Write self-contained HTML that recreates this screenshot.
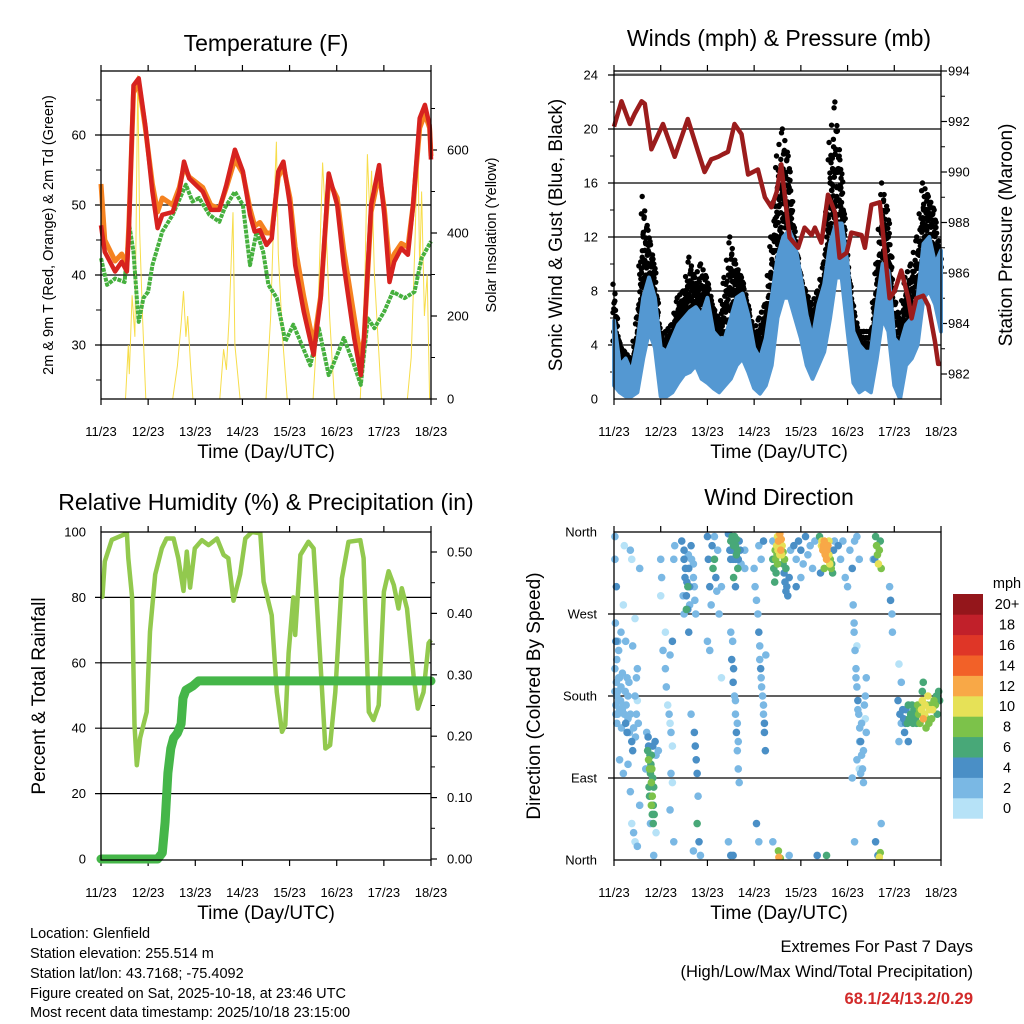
<!DOCTYPE html>
<html><head><meta charset="utf-8"><title>Station Meteogram</title>
<style>
html,body{margin:0;padding:0;background:#fff;}
svg{display:block;font-family:"Liberation Sans",Arial,sans-serif;}
</style></head>
<body>
<svg id="chart" width="1024" height="1024" viewBox="0 0 1024 1024" xmlns="http://www.w3.org/2000/svg">
<rect x="0" y="0" width="1024" height="1024" fill="#fff"/>
<g id="layer"></g>
<text x="266" y="51" font-size="23" text-anchor="middle">Temperature (F)</text>
<text x="779" y="46" font-size="23" text-anchor="middle">Winds (mph) &amp; Pressure (mb)</text>
<text x="266" y="510" font-size="23" text-anchor="middle">Relative Humidity (%) &amp; Precipitation (in)</text>
<text x="779" y="505" font-size="23" text-anchor="middle">Wind Direction</text>
<text x="266" y="458" font-size="19" text-anchor="middle">Time (Day/UTC)</text>
<text x="779" y="458" font-size="19" text-anchor="middle">Time (Day/UTC)</text>
<text x="266" y="919" font-size="19" text-anchor="middle">Time (Day/UTC)</text>
<text x="779" y="919" font-size="19" text-anchor="middle">Time (Day/UTC)</text>
<text transform="translate(53,235) rotate(-90)" font-size="14.5" text-anchor="middle">2m &amp; 9m T (Red, Orange) &amp; 2m Td (Green)</text>
<text transform="translate(496,235) rotate(-90)" font-size="14.5" text-anchor="middle">Solar Insolation (Yellow)</text>
<text transform="translate(562,235) rotate(-90)" font-size="19" text-anchor="middle">Sonic Wind &amp; Gust (Blue, Black)</text>
<text transform="translate(1012,235) rotate(-90)" font-size="19" text-anchor="middle">Station Pressure (Maroon)</text>
<text transform="translate(45,696) rotate(-90)" font-size="19" text-anchor="middle">Percent &amp; Total Rainfall</text>
<text transform="translate(540,696) rotate(-90)" font-size="19" text-anchor="middle">Direction (Colored By Speed)</text>
<g font-size="14.5">
<text x="30" y="938">Location: Glenfield</text>
<text x="30" y="958">Station elevation: 255.514 m</text>
<text x="30" y="978">Station lat/lon: 43.7168; -75.4092</text>
<text x="30" y="998">Figure created on Sat, 2025-10-18, at 23:46 UTC</text>
<text x="30" y="1017">Most recent data timestamp: 2025/10/18 23:15:00</text>
</g>
<text x="973" y="952" font-size="16.5" text-anchor="end">Extremes For Past 7 Days</text>
<text x="973" y="977" font-size="16.5" text-anchor="end">(High/Low/Max Wind/Total Precipitation)</text>
<text x="973" y="1004" font-size="16.5" font-weight="bold" fill="#d22a2a" text-anchor="end">68.1/24/13.2/0.29</text>
</svg>
<script>
// ---------- data ----------
const dayLabels = ["11/23","12/23","13/23","14/23","15/23","16/23","17/23","18/23"];
const tempTicks = [30,40,50,60];
const solarTicks = [0,200,400,600];
const windTicks = [0,4,8,12,16,20,24];
const pressTicks = [982,984,986,988,990,992,994];
const rhTicks = [0,20,40,60,80,100];
const precipTicks = [0.00,0.10,0.20,0.30,0.40,0.50];
const dirTicks = ["North","East","South","West","North"];
const speedBins = ["0","2","4","6","8","10","12","14","16","18","20+"];
const speedColors = ["#b6e2f7","#7ab8e4","#4a8fc6","#48a878","#7cc24a","#e6e157","#f8a847","#f26128","#df3627","#c1202a","#94161b"];

const tempT = [0,0.08,0.3,0.44,0.55,0.59,0.69,0.8,0.94,1.09,1.2,1.3,1.52,1.66,1.76,1.87,2.16,2.33,2.51,2.66,2.84,3.01,3.16,3.26,3.37,3.51,3.62,3.76,3.87,4.01,4.12,4.3,4.51,4.66,4.83,5.01,5.15,5.37,5.51,5.58,5.73,5.9,6.01,6.12,6.22,6.37,6.51,6.62,6.76,6.87,6.97,7.0];
const temp2m = [47.1,43.3,40.5,41.9,40.5,46.2,67.1,68.1,61.4,51.9,46.7,48.6,49.0,51.9,56.2,53.8,51.9,49.3,49.3,52.9,57.9,54.8,48.6,46.2,46.4,44.3,45.2,54.8,56.2,50.0,41.4,34.8,28.6,36.7,54.5,50.0,41.4,31.0,25.7,31.0,50.0,55.7,48.6,39.0,41.9,43.8,42.9,50.0,62.4,64.3,61.4,56.5];
const temp9m = [53.0,45.0,42.0,43.0,41.5,47.0,66.0,67.5,61.0,53.0,49.0,51.0,50.0,52.5,55.5,54.0,52.5,50.0,49.5,52.5,56.5,54.5,49.5,47.0,47.5,46.0,46.0,54.0,55.5,51.0,44.0,37.0,30.0,37.0,53.5,51.0,43.5,34.0,28.0,31.0,49.0,54.5,49.5,41.5,43.0,44.5,44.0,50.0,61.0,63.0,61.0,57.0];
const dewT = [0,0.13,0.3,0.5,0.6,0.69,0.76,0.8,0.9,1.0,1.09,1.3,1.52,1.8,1.94,2.08,2.3,2.51,2.62,2.84,3.01,3.16,3.3,3.44,3.55,3.73,3.91,4.08,4.23,4.44,4.62,4.83,5.01,5.15,5.37,5.51,5.66,5.8,6.01,6.19,6.44,6.65,6.8,7.0];
const dewPt = [42.4,38.6,39.5,39.0,47.1,43.3,36.7,33.3,36.7,37.6,41.4,46.2,48.6,52.9,50.5,51.0,48.6,47.6,49.5,51.9,50.0,41.4,46.2,43.3,38.6,36.7,30.5,32.9,30.5,27.1,32.4,25.7,28.6,31.0,27.1,24.3,33.8,32.4,34.8,37.6,36.7,37.6,42.4,44.8];
const solarT = [0,0.52,0.58,0.6,0.66,0.72,0.78,0.82,0.88,0.95,1.52,1.62,1.7,1.75,1.8,1.84,1.9,1.95,2.52,2.6,2.66,2.72,2.8,2.84,2.9,2.95,3.5,3.6,3.68,3.72,3.76,3.85,3.95,4.5,4.6,4.7,4.78,4.85,4.95,5.5,5.6,5.65,5.7,5.74,5.8,5.9,5.95,6.5,6.58,6.66,6.72,6.76,6.8,6.86,6.92,6.97,7.0];
const solarW = [0,0,130,60,250,150,780,400,200,0,0,80,180,260,150,200,80,0,0,120,70,200,450,130,60,0,0,200,500,620,350,150,0,0,200,570,400,200,0,0,300,590,450,550,300,100,0,0,100,380,640,300,500,200,300,0,0];

const pressT = [0,0.16,0.34,0.44,0.59,0.66,0.8,1.05,1.3,1.58,1.8,1.94,2.08,2.23,2.33,2.44,2.58,2.73,2.87,3.08,3.23,3.37,3.48,3.58,3.76,3.94,4.08,4.23,4.3,4.44,4.58,4.73,4.83,4.98,5.08,5.3,5.37,5.51,5.69,5.9,6.01,6.15,6.3,6.37,6.47,6.62,6.73,6.87,6.94,7.0];
const pressMb = [991.8,992.8,991.9,992.3,992.8,992.7,990.9,991.9,990.6,992.1,990.8,990.0,990.5,990.6,990.7,990.8,991.9,991.5,989.9,990.1,989.0,988.6,989.2,990.3,987.4,987.0,987.8,987.5,987.8,987.2,989.1,988.4,986.6,986.8,987.6,987.5,987.0,988.7,988.8,985.0,985.3,986.1,985.0,984.2,985.0,985.1,984.7,983.3,982.4,982.4];
const windT = [0,0.125,0.25,0.375,0.5,0.625,0.75,0.875,1,1.125,1.25,1.375,1.5,1.625,1.75,1.875,2,2.125,2.25,2.375,2.5,2.625,2.75,2.875,3,3.125,3.25,3.375,3.5,3.625,3.75,3.875,4,4.125,4.25,4.375,4.5,4.625,4.75,4.875,5,5.125,5.25,5.375,5.5,5.625,5.75,5.875,6,6.125,6.25,6.375,6.5,6.625,6.75,6.875,7];
const windHi = [5.8,2.5,3,2,4.2,7.5,9,7.5,3.8,3.5,4.5,5.5,6,6.5,6.8,6.2,7.5,5,4.5,4.5,6,7.5,7.8,6.2,3.8,3,4.5,7.5,10.5,12,12.5,11.5,9,6.2,4.5,7,8.5,11.5,13,13,10,5,4,3.5,3.5,7,10,9.5,4.5,4,5.5,6,7.5,11.5,12,10,11];
const windLo = [1,0.5,0.2,0.2,0.5,3,5,3.8,0.2,0.2,0.5,1.2,1.8,2,2.5,1.5,1.2,0.8,0.5,1,1.5,2.5,3,2,0.8,0.4,1,2.5,6,7.5,7.5,6,4.5,2.5,1.5,2.5,3.5,6,9,9,5,1.2,0.5,0.8,0.5,3,6,5,1,0,2.5,3,4,7.5,8,7,5];
const gustHi = [8.5,4,3.5,3,6,15,12.5,10,4.5,5,5.5,7.5,8,10.5,9,10,9,7,6,9,12,10,9,7,5,6,7,12,18,20,18,12,9,8,7,8,10,19,22,17,10,7,5,5,5,10,16,14,8,6,9,10,12,16,15,14,10];

const rhT = [0,0.03,0.08,0.23,0.55,0.58,0.66,0.71,0.76,0.83,0.97,1.04,1.15,1.29,1.39,1.54,1.64,1.75,1.82,1.89,1.99,2.14,2.28,2.46,2.6,2.7,2.81,2.95,3.06,3.2,3.38,3.45,3.62,3.73,3.84,3.91,3.98,4.08,4.12,4.23,4.4,4.51,4.65,4.76,4.86,4.97,5.11,5.25,5.5,5.57,5.68,5.78,5.89,6.0,6.1,6.21,6.31,6.38,6.49,6.63,6.72,6.84,6.95,7.0];
const rhPct = [80,80.2,91,97.6,99.6,92,80,41,28.7,37,45,69.5,87,95,98,98,92,82,94,83,95,97.5,96,98,93,92,79,87,98,100,99.6,84.8,74.6,51,38.9,41,63,80,68.5,93,97,95,61.3,33.8,34.8,51,85.8,97,97.5,92,45,42.5,47,81.7,88,83.8,76.6,82.8,76.6,56,46,51,66,67];
const precipT = [0,1.2,1.3,1.36,1.42,1.48,1.54,1.62,1.7,1.74,1.8,1.95,2.07,2.2,7.0];
const precipIn = [0,0,0.01,0.06,0.14,0.18,0.197,0.205,0.22,0.262,0.275,0.282,0.29,0.29,0.29];

const dirObs = [[0.02,355,2],[0.02,330,3],[0.05,300,4],[0.03,260,3],[0.04,240,4],[0.02,210,2],[0.05,195,3],[0.08,185,2],[0.1,175,2],[0.12,165,3],[0.06,150,2],[0.15,190,2],[0.18,205,3],[0.2,170,3],[0.22,160,2],[0.25,150,4],[0.28,140,4],[0.3,180,2],[0.32,195,3],[0.35,160,2],[0.38,130,5],[0.4,120,4],[0.42,145,3],[0.45,180,3],[0.48,200,2],[0.5,210,3],[0.52,150,2],[0.1,230,2],[0.15,250,3],[0.2,280,1],[0.25,240,2],[0.35,340,2],[0.38,330,1],[0.4,235,2],[0.45,265,1],[0.55,320,2],[0.3,105,2],[0.2,95,3],[0.35,75,2],[0.38,40,1],[0.42,30,2],[0.45,20,1],[0.5,15,3],[0.55,60,2],[0.12,110,2],[0.08,240,2],[0.22,345,1],[0.02,185,2],[0.04,170,3],[0.5,175,1],
[0.72,120,7],[0.74,110,8],[0.76,100,8],[0.78,95,7],[0.8,85,9],[0.82,70,8],[0.84,60,7],[0.86,50,6],[0.75,80,7],[0.8,115,6],[0.83,125,4],[0.88,130,4],[0.9,115,3],[0.73,135,5],[0.7,140,3],[0.68,100,2],[0.78,40,3],[0.85,5,3],[0.9,30,1],[0.95,120,2],
[1.0,330,2],[1.02,310,3],[1.0,290,1],[1.05,230,2],[1.1,210,3],[1.12,190,2],[1.15,170,1],[1.18,160,2],[1.2,150,1],[1.22,140,2],[1.25,125,1],[1.2,225,3],[1.25,240,4],[1.28,330,2],[1.3,345,3],[1.25,85,1],[1.2,55,3],[1.28,20,2],[1.22,95,2],[1.1,250,1],
[1.45,350,4],[1.5,330,5],[1.52,310,4],[1.55,290,5],[1.58,300,6],[1.6,320,4],[1.62,280,3],[1.5,270,3],[1.65,345,4],[1.7,325,3],[1.72,300,2],[1.75,270,3],[1.6,250,4],[1.55,275,6],[1.72,140,4],[1.74,125,4],[1.76,110,5],[1.78,95,4],[1.8,70,3],[1.78,40,6],[1.82,20,4],[1.7,10,2],[1.85,5,3],[1.65,160,2],
[2.0,355,4],[2.02,330,5],[2.05,300,4],[2.08,280,3],[2.1,345,4],[2.12,320,6],[2.15,330,7],[2.18,310,4],[2.2,295,3],[2.22,340,2],[2.25,270,3],[2.0,240,2],[2.05,230,2],[2.3,200,1],[2.3,300,3],[2.15,355,2],
[2.45,358,5],[2.5,350,6],[2.52,340,5],[2.55,330,4],[2.58,355,7],[2.6,345,6],[2.62,335,7],[2.65,320,6],[2.68,350,5],[2.7,340,4],[2.72,325,3],[2.5,250,3],[2.52,220,4],[2.55,195,4],[2.58,180,3],[2.6,160,2],[2.62,140,4],[2.64,120,3],[2.66,100,2],[2.68,85,3],[2.5,5,4],[2.45,20,3],[2.55,5,4],[2.8,340,3],[2.8,320,2],
[3.0,320,3],[3.02,300,2],[3.05,285,3],[3.08,270,3],[3.1,250,4],[3.12,220,3],[3.15,200,2],[3.18,180,2],[3.2,160,3],[3.22,140,4],[3.24,120,4],[3.1,345,3],[3.15,330,2],[3.2,350,4],[3.05,40,4],[3.1,20,3],[3.25,225,2],
[3.4,330,6],[3.42,320,7],[3.45,340,9],[3.48,345,10],[3.5,355,11],[3.52,350,12],[3.55,358,12],[3.58,352,13],[3.6,345,11],[3.62,338,9],[3.65,330,8],[3.5,325,8],[3.55,335,10],[3.47,315,7],[3.44,305,6],[3.68,320,7],[3.7,300,5],[3.72,290,4],[3.75,310,4],[3.78,340,3],[3.4,350,3],[3.52,10,8],[3.53,3,12],[3.56,2,8],[3.75,5,3],[3.4,20,3],
[3.85,345,4],[3.9,330,3],[3.95,350,5],[4.0,340,4],[4.05,325,3],[4.1,355,4],[4.15,335,3],[4.2,345,2],[4.25,320,3],[3.9,300,4],[4.0,310,3],[4.3,350,3],
[4.4,355,7],[4.45,350,10],[4.48,345,12],[4.5,340,13],[4.52,335,12],[4.55,330,13],[4.58,345,12],[4.6,350,11],[4.62,325,10],[4.65,320,9],[4.68,315,6],[4.5,320,8],[4.42,315,4],[4.55,5,7],[4.35,5,4],
[4.8,345,4],[4.85,330,3],[4.9,350,2],[4.95,310,3],[5.0,300,2],[5.05,340,3],[5.1,320,4],[5.15,350,2],[5.2,355,3],[5.25,330,2],
[5.12,280,3],[5.14,250,2],[5.16,230,3],[5.18,210,2],[5.2,190,3],[5.22,175,4],[5.24,160,3],[5.26,145,2],[5.28,130,4],[5.3,115,3],[5.32,100,2],[5.34,85,3],[5.36,170,2],[5.38,155,1],[5.4,140,2],[5.2,235,1],[5.25,100,1],[5.1,90,3],[5.15,20,2],[5.4,200,2],
[5.6,355,6],[5.62,345,8],[5.64,335,9],[5.66,325,10],[5.68,340,9],[5.7,350,7],[5.72,320,8],[5.58,330,4],[5.55,330,3],[5.65,5,5],[5.68,3,10],[5.7,8,8],[5.6,20,4],[5.72,40,3],
[5.9,300,3],[5.92,285,4],[5.95,270,3],[5.96,250,2],
[6.08,175,4],[6.12,160,4],[6.15,150,3],[6.2,155,4],[6.22,140,5],[6.25,165,5],[6.28,150,6],[6.3,170,6],[6.35,160,7],[6.4,150,7],[6.42,165,7],[6.45,155,7],[6.5,170,8],[6.52,160,9],[6.55,150,8],[6.58,165,10],[6.6,175,10],[6.62,155,12],[6.65,160,11],[6.68,145,8],[6.7,170,9],[6.72,180,10],[6.75,165,11],[6.78,170,9],[6.8,155,8],[6.85,175,8],[6.9,180,7],[6.95,185,6],[6.62,195,7],[6.6,185,7],[6.1,130,2],[6.3,130,4],[6.15,195,2],[6.1,215,1]];
const dirObsExtra = [[0.06,180,2],[0.08,160,3],[0.1,200,2],[0.14,175,3],[0.16,145,2],[0.18,165,2],[0.24,185,2],[0.26,170,3],[0.3,155,2],[0.33,140,3],[0.04,160,2],[0.06,220,3],[0.12,200,2],[0.28,200,2],[0.46,135,2],[0.48,160,3],
[0.74,125,4],[0.77,115,6],[0.79,105,7],[0.81,100,8],[0.83,90,6],[0.85,80,7],[0.76,70,6],[0.8,60,8],[0.82,50,7],[0.84,40,6],
[1.5,340,4],[1.53,320,4],[1.56,305,5],[1.59,335,3],[1.62,300,4],[1.66,330,3],[1.7,310,2],[1.73,285,3],[1.48,290,3],[1.58,275,4],
[2.48,340,5],[2.5,330,4],[2.53,355,6],[2.56,345,7],[2.6,330,5],[2.62,352,6],[2.64,340,7],[2.66,330,5],[2.56,310,6],[2.6,300,5],
[3.46,330,8],[3.49,335,9],[3.51,340,10],[3.54,345,11],[3.57,340,12],[3.59,335,10],[3.62,325,6],[3.64,315,5],[3.66,305,4],[3.68,295,4],
[4.44,345,11],[4.47,340,12],[4.5,350,12],[4.53,345,13],[4.56,340,12],[4.6,335,10],[4.63,330,9],[4.66,325,6],[4.7,340,4],[4.72,350,3],
[6.18,165,4],[6.24,150,5],[6.32,155,6],[6.38,170,6],[6.44,160,7],[6.48,150,7],[6.54,165,8],[6.6,160,9],[6.66,170,10],[6.7,155,9],[6.74,150,9],[6.82,165,10],[6.88,170,8],[6.92,160,7],[6.97,175,7],
[5.14,260,2],[5.18,200,3],[5.22,165,3],[5.26,130,3],[5.3,150,2],[5.34,120,2],[5.38,180,2],[5.2,110,2],[5.28,95,3],
[2.54,240,3],[2.56,210,4],[2.6,175,3],[2.64,150,3],[2.66,130,3],[3.12,235,3],[3.14,210,4],[3.16,190,3],[3.2,170,3],[3.22,150,4]];

// ---------- scales ----------
const NS = "http://www.w3.org/2000/svg";
const L = {x0:101,x1:431}, R = {x0:614,x1:941};
const TOP1 = 71, BOT1 = 399, TOP2 = 532, BOT2 = 860;
const xL = t => L.x0 + t*(L.x1-L.x0)/7;
const xR = t => R.x0 + t*(R.x1-R.x0)/7;
const yTemp = v => 345 - (v-30)*7;
const ySolar = v => Math.max(TOP1, 399 - v*0.415);
const yWind = v => 399 - v*13.5;
const yPress = p => 71 + (994-p)*25.25;
const yRH = v => 859 - v*3.27;
const yPrecip = v => 859 - v*614;
const yDir = d => 860 - d*328/360;
const layer = document.getElementById('layer');

function mk(tag, attrs, parent){
  const e = document.createElementNS(NS, tag);
  for (const k in attrs) e.setAttribute(k, attrs[k]);
  (parent||layer).appendChild(e);
  return e;
}
function poly(ts, vs, xf, yf){ return ts.map((t,i)=>xf(t).toFixed(1)+','+yf(vs[i]).toFixed(1)).join(' '); }
function speedColor(s){ let i = Math.min(10, Math.floor(s/2)); return speedColors[i]; }

function frame(x0,x1,y0,y1,name){
  const r = mk('rect',{x:x0,y:y0,width:x1-x0,height:y1-y0,fill:'none',stroke:'#000','stroke-width':1.3});
  
  
}
function xTicks(xf,y0,y1,labelY,name){
  const g = mk('g',{});
  
  
  dayLabels.forEach((lab,i)=>{
    const x = xf(i);
    mk('line',{x1:x,x2:x,y1:y1,y2:y1+6,stroke:'#000','stroke-width':1.2},g);
    mk('line',{x1:x,x2:x,y1:y0,y2:y0-6,stroke:'#000','stroke-width':1.2},g);
    const t = mk('text',{x:x,y:labelY,'font-size':13,'text-anchor':'middle'},g);
    t.textContent = lab;
  });
}
function hGrid(x0,x1,ys,name){
  const g = mk('g',{});
  
  
  ys.forEach(y=>mk('line',{x1:x0-6,x2:x1,y1:y,y2:y,stroke:'#000','stroke-width':1.2},g));
}
function yLabels(vals, yf, x, anchor, fmt, name, tickX, tickDir){
  const g = mk('g',{});
  
  
  vals.forEach(v=>{
    const y = yf(v);
    if (tickX!==undefined) mk('line',{x1:tickX,x2:tickX+tickDir*6,y1:y,y2:y,stroke:'#000','stroke-width':1.2},g);
    const t = mk('text',{x:x,y:y+4.5,'font-size':13,'text-anchor':anchor},g);
    t.textContent = fmt(v);
  });
}

hGrid(L.x0,L.x1,tempTicks.map(yTemp),'temp-gridlines');
yLabels(tempTicks,yTemp,86,'end',v=>v,'temp-y-ticks');
yLabels(solarTicks,ySolar,447,'start',v=>v,'solar-y-ticks',L.x1,1);
for (let v=25; v<=65; v+=10) mk('line',{x1:L.x0-5,x2:L.x0,y1:yTemp(v),y2:yTemp(v),stroke:'#000'});
for (let v=100; v<=700; v+=200) mk('line',{x1:L.x1,x2:L.x1+4,y1:ySolar(v),y2:ySolar(v),stroke:'#000'});
xTicks(xL,TOP1,BOT1,436,'temp-x-ticks');

hGrid(R.x0,R.x1,windTicks.slice(1).map(yWind),'wind-gridlines');
mk('line',{x1:R.x0,x2:R.x1,y1:TOP1+3,y2:TOP1+3,stroke:'#888','stroke-width':1.2});
yLabels(windTicks,yWind,598,'end',v=>v,'wind-y-ticks');
yLabels(pressTicks,yPress,948,'start',v=>v,'pressure-y-ticks',R.x1,1);
for (let p=983; p<=993; p+=2) mk('line',{x1:R.x1,x2:R.x1+4,y1:yPress(p),y2:yPress(p),stroke:'#000'});
for (let v=2; v<=22; v+=4) mk('line',{x1:R.x0-4,x2:R.x0,y1:yWind(v),y2:yWind(v),stroke:'#000'});
xTicks(xR,TOP1,BOT1,436,'wind-x-ticks');

hGrid(L.x0,L.x1,rhTicks.slice(1,5).map(yRH),'rh-gridlines');
yLabels(rhTicks,yRH,86,'end',v=>v,'rh-y-ticks');
yLabels(precipTicks,yPrecip,447,'start',v=>v.toFixed(2),'precip-y-ticks',L.x1,1);
for (let v=0.05; v<0.53; v+=0.1) mk('line',{x1:L.x1,x2:L.x1+4,y1:yPrecip(v),y2:yPrecip(v),stroke:'#000'});
xTicks(xL,TOP2,BOT2,897,'rh-x-ticks');

hGrid(R.x0,R.x1,[90,180,270].map(yDir),'dir-gridlines');
{
  const g = mk('g',{});
  
  
  dirTicks.forEach((lab,i)=>{
    const y = yDir(i*90);
    const t = mk('text',{x:597,y:y+4.5,'font-size':13,'text-anchor':'end'},g);
    t.textContent = lab;
  });
}
xTicks(xR,TOP2,BOT2,897,'dir-x-ticks');

const defs = mk('defs',{});
[['c1',L.x0,TOP1,L.x1,BOT1],['c2',R.x0,TOP1,R.x1,BOT1],['c3',L.x0,TOP2,L.x1,BOT2],['c4',R.x0,TOP2,R.x1,BOT2]].forEach(c=>{
  const cp = mk('clipPath',{id:c[0]},defs);
  mk('rect',{x:c[1]-6,y:c[2],width:c[3]-c[1]+12,height:c[4]-c[2]},cp);
});

let e = mk('polyline',{points:poly(solarT,solarW,xL,ySolar),fill:'none',stroke:'#f7dd4a','stroke-width':1,'clip-path':'url(#c1)'});
 
e = mk('polyline',{points:poly(dewT,dewPt,xL,yTemp),fill:'none',stroke:'#46b03e','stroke-width':4,'stroke-dasharray':'4 1','stroke-linejoin':'round','clip-path':'url(#c1)'});
 
e = mk('polyline',{points:poly(tempT,temp9m,xL,yTemp),fill:'none',stroke:'#f58220','stroke-width':5,'stroke-linejoin':'round','clip-path':'url(#c1)'});
 
e = mk('polyline',{points:poly(tempT,temp2m,xL,yTemp),fill:'none',stroke:'#d7221f','stroke-width':4.5,'stroke-linejoin':'round','clip-path':'url(#c1)'});
 

// gust dots (cloud above sustained wind up to gust envelope)
{
  const g = mk('g',{'clip-path':'url(#c2)'});
  
  
  const sub = 7, lv = 6;
  for (let i=0;i<windT.length-1;i++){
    for (let j=0;j<sub;j++){
      const f = j/sub;
      const t = windT[i]+(windT[i+1]-windT[i])*f;
      const gu = gustHi[i]+(gustHi[i+1]-gustHi[i])*f;
      const hi = windHi[i]+(windHi[i+1]-windHi[i])*f;
      const base = Math.max(0, hi-1.5);
      const top = j%3===0 ? gu : gu - (gu-base)*0.15*(j%3);
      for (let k=0;k<=lv;k++){
        const v = base + (top-base)*k/lv;
        mk('circle',{cx:xR(t)+((k+j)%3)-1,cy:yWind(v),r:2.7,fill:'#000'},g);
      }
    }
  }
}
{
  const pts = poly(windT,windHi,xR,yWind)+' '+poly(windT.slice().reverse(),windLo.slice().reverse(),xR,yWind);
  e = mk('polygon',{points:pts,fill:'#5498d2',stroke:'#5498d2','stroke-width':4,'stroke-linejoin':'round','clip-path':'url(#c2)'});
   
}
e = mk('polyline',{points:poly(pressT,pressMb,xR,yPress),fill:'none',stroke:'#9b1c1c','stroke-width':4.5,'stroke-linejoin':'round','clip-path':'url(#c2)'});
 

e = mk('polyline',{points:poly(rhT,rhPct,xL,yRH),fill:'none',stroke:'#92c94e','stroke-width':4.5,'stroke-linejoin':'round','clip-path':'url(#c3)'});
 
e = mk('polyline',{points:poly(precipT,precipIn,xL,yPrecip),fill:'none',stroke:'#45b649','stroke-width':9,'stroke-linejoin':'round','stroke-linecap':'round'});
 

{
  const g = mk('g',{'clip-path':'url(#c4)'});
  
  
  dirObs.concat(dirObsExtra).sort((a,b)=>a[2]-b[2]).forEach(p=>{
    mk('circle',{cx:xR(p[0]),cy:yDir(p[1]),r:3.8,fill:speedColor(p[2])},g);
  });
}

frame(L.x0,L.x1,TOP1,BOT1,'temperature-plot-frame');
frame(R.x0,R.x1,TOP1,BOT1,'winds-plot-frame');
frame(L.x0,L.x1,TOP2,BOT2,'humidity-plot-frame');
frame(R.x0,R.x1,TOP2,BOT2,'direction-plot-frame');

{
  const g = mk('g',{});
  
  
  const top = 594, h = 20.4;
  speedBins.forEach((lab,i)=>{
    const y = top + (10-i)*h;
    mk('rect',{x:953,y:y,width:30,height:h+0.3,fill:speedColors[i]},g);
    const t = mk('text',{x:1007,y:y+h/2+5,'font-size':14.5,'text-anchor':'middle'},g);
    t.textContent = lab;
  });
  const t = mk('text',{x:1007,y:588,'font-size':14.5,'text-anchor':'middle'},g);
  t.textContent = 'mph';
}
</script>
</body></html>
